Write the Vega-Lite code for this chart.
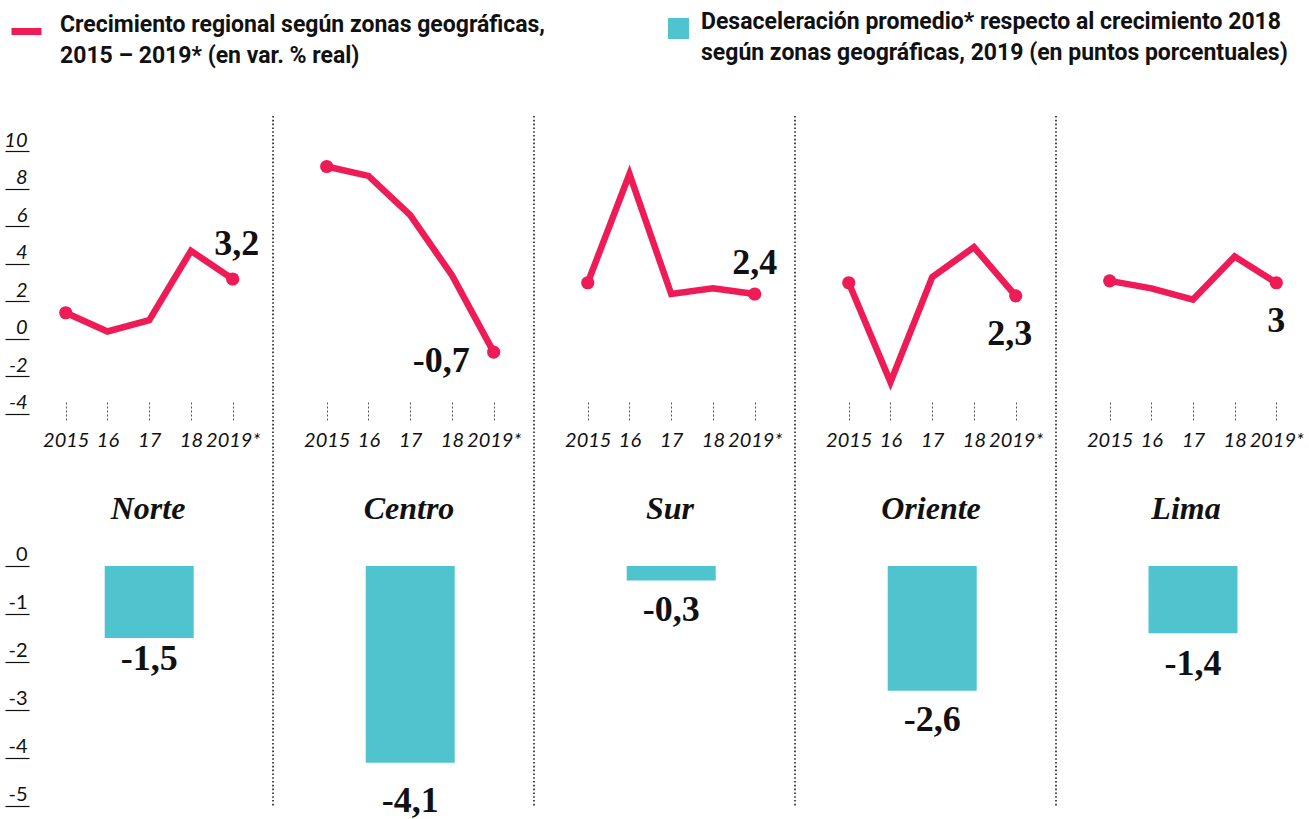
{
  "$schema": "https://vega.github.io/schema/vega-lite/v6.json",
  "background": "white",
  "padding": {"left": 3, "top": 13, "right": 0, "bottom": 0},
  "bounds": "flush",
  "spacing": 0,
  "datasets": {
    "crec": [
      {"zona": "Norte", "anio": 2015, "valor": 1.4},
      {"zona": "Norte", "anio": 2016, "valor": 0.4},
      {"zona": "Norte", "anio": 2017, "valor": 1.0},
      {"zona": "Norte", "anio": 2018, "valor": 4.7},
      {"zona": "Norte", "anio": 2019, "valor": 3.2},
      {"zona": "Centro", "anio": 2015, "valor": 9.2},
      {"zona": "Centro", "anio": 2016, "valor": 8.7},
      {"zona": "Centro", "anio": 2017, "valor": 6.6},
      {"zona": "Centro", "anio": 2018, "valor": 3.4},
      {"zona": "Centro", "anio": 2019, "valor": -0.7},
      {"zona": "Sur", "anio": 2015, "valor": 3.0},
      {"zona": "Sur", "anio": 2016, "valor": 8.8},
      {"zona": "Sur", "anio": 2017, "valor": 2.4},
      {"zona": "Sur", "anio": 2018, "valor": 2.7},
      {"zona": "Sur", "anio": 2019, "valor": 2.4},
      {"zona": "Oriente", "anio": 2015, "valor": 3.0},
      {"zona": "Oriente", "anio": 2016, "valor": -2.3},
      {"zona": "Oriente", "anio": 2017, "valor": 3.3},
      {"zona": "Oriente", "anio": 2018, "valor": 4.9},
      {"zona": "Oriente", "anio": 2019, "valor": 2.3},
      {"zona": "Lima", "anio": 2015, "valor": 3.1},
      {"zona": "Lima", "anio": 2016, "valor": 2.7},
      {"zona": "Lima", "anio": 2017, "valor": 2.1},
      {"zona": "Lima", "anio": 2018, "valor": 4.4},
      {"zona": "Lima", "anio": 2019, "valor": 3.0}
    ],
    "desac": [
      {"zona": "Norte", "valor": -1.5},
      {"zona": "Centro", "valor": -4.1},
      {"zona": "Sur", "valor": -0.3},
      {"zona": "Oriente", "valor": -2.6},
      {"zona": "Lima", "valor": -1.4}
    ]
  },
  "hconcat": [
    {
      "width": 261, "height": 691,
      "resolve": {"scale": {"y": "independent"}, "axis": {"y": "independent"}},
      "layer": [
        {
          "data": {"name": "crec"},
          "transform": [{"filter": "datum.zona == 'Norte'"}],
          "encoding": {
            "x": {"field": "anio", "type": "quantitative", "scale": {"domain": [2013.952, 2019.966], "nice": false, "zero": false},
              "axis": {"values": [2015, 2016, 2017, 2018, 2019], "orient": "bottom", "offset": -405, "domain": false, "grid": false, "tickSize": 20, "tickDash": [2, 2], "tickColor": "#555", "tickWidth": 1, "labelFont": "Lato", "labelFontStyle": "italic", "labelFontSize": 20, "labelColor": "#111", "labelPadding": 8, "labelOverlap": false, "labelFlush": false, "labelExpr": "datum.value == 2015 ? '2015' : datum.value == 2019 ? '2019*' : substring(toString(datum.value), 2)", "title": "Norte", "titleFont": "Liberation Serif", "titleFontStyle": "italic", "titleFontWeight": "bold", "titleFontSize": 32, "titleColor": "#111", "titlePadding": 43}},
            "y": {"field": "valor", "type": "quantitative", "scale": {"domain": [-24.96, 11.893], "nice": false, "zero": false},
              "axis": {"orient": "left", "values": [-4, -2, 0, 2, 4, 6, 8, 10], "offset": -12, "domain": false, "grid": false, "tickSize": 24, "tickColor": "#111", "tickWidth": 1.2, "labelFont": "Lato", "labelFontStyle": "italic", "labelFontSize": 20, "labelAlign": "right", "labelBaseline": "alphabetic", "labelPadding": -22, "labelOffset": -5, "labelColor": "#111", "labelOverlap": false, "labelFlush": false, "title": null}}
          },
          "layer": [
            {"mark": {"type": "line", "strokeWidth": 6.5, "strokeJoin": "miter"},
             "encoding": {"stroke": {"datum": "Crecimiento", "scale": {"range": ["#EE1B56"]},
               "legend": {"orient": "none", "legendX": -9, "legendY": -103, "title": null, "symbolType": "stroke", "symbolSize": 900, "symbolStrokeWidth": 7, "labelExpr": "['Crecimiento regional según zonas geográficas,', '2015 – 2019* (en var. % real)']", "labelFont": "Roboto", "labelFontWeight": "bold", "labelFontSize": 23, "labelColor": "#111", "labelLimit": 1000, "labelBaseline": "alphabetic", "labelOffset": 15, "padding": 0}}}},
            {"transform": [{"filter": "datum.anio == 2015 || datum.anio == 2019"}], "mark": {"type": "circle", "size": 175, "color": "#EE1B56", "opacity": 1}},
            {"transform": [{"filter": "datum.anio == 2019"}], "mark": {"type": "text", "font": "Liberation Serif", "fontWeight": "bold", "fontSize": 36, "color": "#111", "align": "center", "baseline": "alphabetic", "dx": 4, "dy": -24},
             "encoding": {"text": {"field": "valor", "type": "quantitative", "format": ".1~f"}}}
          ]
        },
        {
          "data": {"name": "desac"},
          "transform": [{"filter": "datum.zona == 'Norte'"}],
          "encoding": {
            "x": {"datum": 2017, "type": "quantitative", "scale": {"domain": [2013.952, 2019.966], "nice": false, "zero": false},
              "axis": {"values": [2015, 2016, 2017, 2018, 2019], "orient": "bottom", "offset": -405, "domain": false, "grid": false, "tickSize": 20, "tickDash": [2, 2], "tickColor": "#555", "tickWidth": 1, "labelFont": "Lato", "labelFontStyle": "italic", "labelFontSize": 20, "labelColor": "#111", "labelPadding": 8, "labelOverlap": false, "labelFlush": false, "labelExpr": "datum.value == 2015 ? '2015' : datum.value == 2019 ? '2019*' : substring(toString(datum.value), 2)", "title": "Norte", "titleFont": "Liberation Serif", "titleFontStyle": "italic", "titleFontWeight": "bold", "titleFontSize": 32, "titleColor": "#111", "titlePadding": 43}},
            "y": {"field": "valor", "type": "quantitative", "scale": {"domain": [-5.021, 9.375], "nice": false, "zero": false},
              "axis": {"orient": "left", "values": [0, -1, -2, -3, -4, -5], "offset": -12, "domain": false, "grid": false, "tickSize": 24, "tickColor": "#111", "tickWidth": 1.2, "labelFont": "Lato", "labelFontSize": 20, "labelAlign": "right", "labelBaseline": "alphabetic", "labelPadding": -22, "labelOffset": -5, "labelColor": "#111", "labelOverlap": false, "labelFlush": false, "title": null}}
          },
          "layer": [
            {"mark": {"type": "bar", "width": 89},
             "encoding": {"y2": {"datum": 0}, "fill": {"datum": "Desaceleración", "scale": {"range": ["#4FC4CE"]},
               "legend": {"orient": "none", "legendX": 650, "legendY": -99, "title": null, "symbolType": "square", "symbolSize": 441, "symbolStrokeWidth": 0, "labelExpr": "['Desaceleración promedio* respecto al crecimiento 2018', 'según zonas geográficas, 2019 (en puntos porcentuales)']", "labelFont": "Roboto", "labelFontWeight": "bold", "labelFontSize": 23, "labelColor": "#111", "labelLimit": 1000, "labelBaseline": "alphabetic", "labelOffset": 11, "padding": 0}}}},
            {"mark": {"type": "text", "font": "Liberation Serif", "fontWeight": "bold", "fontSize": 36, "color": "#111", "align": "center", "baseline": "alphabetic", "dy": 32},
             "encoding": {"text": {"field": "valor", "type": "quantitative", "format": ".1f"}}}
          ]
        },
        {
          "data": {"name": "desac"},
          "transform": [{"filter": "datum.zona == 'Norte'"}],
          "mark": {"type": "rule", "stroke": "#222", "strokeWidth": 1.6, "strokeDash": [1.6, 2.2]},
          "encoding": {"x": {"datum": 2019.966, "type": "quantitative", "scale": {"domain": [2013.952, 2019.966], "nice": false, "zero": false},
              "axis": {"values": [2015, 2016, 2017, 2018, 2019], "orient": "bottom", "offset": -405, "domain": false, "grid": false, "tickSize": 20, "tickDash": [2, 2], "tickColor": "#555", "tickWidth": 1, "labelFont": "Lato", "labelFontStyle": "italic", "labelFontSize": 20, "labelColor": "#111", "labelPadding": 8, "labelOverlap": false, "labelFlush": false, "labelExpr": "datum.value == 2015 ? '2015' : datum.value == 2019 ? '2019*' : substring(toString(datum.value), 2)", "title": "Norte", "titleFont": "Liberation Serif", "titleFontStyle": "italic", "titleFontWeight": "bold", "titleFontSize": 32, "titleColor": "#111", "titlePadding": 43}}}
        }
      ]
    },
    {
      "width": 261, "height": 691,
      "resolve": {"scale": {"y": "independent"}, "axis": {"y": "independent"}},
      "layer": [
        {
          "data": {"name": "crec"},
          "transform": [{"filter": "datum.zona == 'Centro'"}],
          "encoding": {
            "x": {"field": "anio", "type": "quantitative", "scale": {"domain": [2013.952, 2019.966], "nice": false, "zero": false},
              "axis": {"values": [2015, 2016, 2017, 2018, 2019], "orient": "bottom", "offset": -405, "domain": false, "grid": false, "tickSize": 20, "tickDash": [2, 2], "tickColor": "#555", "tickWidth": 1, "labelFont": "Lato", "labelFontStyle": "italic", "labelFontSize": 20, "labelColor": "#111", "labelPadding": 8, "labelOverlap": false, "labelFlush": false, "labelExpr": "datum.value == 2015 ? '2015' : datum.value == 2019 ? '2019*' : substring(toString(datum.value), 2)", "title": "Centro", "titleFont": "Liberation Serif", "titleFontStyle": "italic", "titleFontWeight": "bold", "titleFontSize": 32, "titleColor": "#111", "titlePadding": 43}},
            "y": {"field": "valor", "type": "quantitative", "scale": {"domain": [-24.96, 11.893], "nice": false, "zero": false}, "axis": null}
          },
          "layer": [
            {"mark": {"type": "line", "strokeWidth": 6.5, "strokeJoin": "miter"},
             "encoding": {"stroke": {"datum": "Crecimiento", "scale": {"range": ["#EE1B56"]}, "legend": null}}},
            {"transform": [{"filter": "datum.anio == 2015 || datum.anio == 2019"}], "mark": {"type": "circle", "size": 175, "color": "#EE1B56", "opacity": 1}},
            {"transform": [{"filter": "datum.anio == 2019"}], "mark": {"type": "text", "font": "Liberation Serif", "fontWeight": "bold", "fontSize": 36, "color": "#111", "align": "right", "baseline": "alphabetic", "dx": -24, "dy": 20},
             "encoding": {"text": {"field": "valor", "type": "quantitative", "format": ".1~f"}}}
          ]
        },
        {
          "data": {"name": "desac"},
          "transform": [{"filter": "datum.zona == 'Centro'"}],
          "encoding": {
            "x": {"datum": 2017, "type": "quantitative", "scale": {"domain": [2013.952, 2019.966], "nice": false, "zero": false},
              "axis": {"values": [2015, 2016, 2017, 2018, 2019], "orient": "bottom", "offset": -405, "domain": false, "grid": false, "tickSize": 20, "tickDash": [2, 2], "tickColor": "#555", "tickWidth": 1, "labelFont": "Lato", "labelFontStyle": "italic", "labelFontSize": 20, "labelColor": "#111", "labelPadding": 8, "labelOverlap": false, "labelFlush": false, "labelExpr": "datum.value == 2015 ? '2015' : datum.value == 2019 ? '2019*' : substring(toString(datum.value), 2)", "title": "Centro", "titleFont": "Liberation Serif", "titleFontStyle": "italic", "titleFontWeight": "bold", "titleFontSize": 32, "titleColor": "#111", "titlePadding": 43}},
            "y": {"field": "valor", "type": "quantitative", "scale": {"domain": [-5.021, 9.375], "nice": false, "zero": false}, "axis": null}
          },
          "layer": [
            {"mark": {"type": "bar", "width": 89},
             "encoding": {"y2": {"datum": 0}, "fill": {"datum": "Desaceleración", "scale": {"range": ["#4FC4CE"]}, "legend": null}}},
            {"mark": {"type": "text", "font": "Liberation Serif", "fontWeight": "bold", "fontSize": 36, "color": "#111", "align": "center", "baseline": "alphabetic", "dy": 49},
             "encoding": {"text": {"field": "valor", "type": "quantitative", "format": ".1f"}}}
          ]
        },
        {
          "data": {"name": "desac"},
          "transform": [{"filter": "datum.zona == 'Centro'"}],
          "mark": {"type": "rule", "stroke": "#222", "strokeWidth": 1.6, "strokeDash": [1.6, 2.2]},
          "encoding": {"x": {"datum": 2019.966, "type": "quantitative", "scale": {"domain": [2013.952, 2019.966], "nice": false, "zero": false},
              "axis": {"values": [2015, 2016, 2017, 2018, 2019], "orient": "bottom", "offset": -405, "domain": false, "grid": false, "tickSize": 20, "tickDash": [2, 2], "tickColor": "#555", "tickWidth": 1, "labelFont": "Lato", "labelFontStyle": "italic", "labelFontSize": 20, "labelColor": "#111", "labelPadding": 8, "labelOverlap": false, "labelFlush": false, "labelExpr": "datum.value == 2015 ? '2015' : datum.value == 2019 ? '2019*' : substring(toString(datum.value), 2)", "title": "Centro", "titleFont": "Liberation Serif", "titleFontStyle": "italic", "titleFontWeight": "bold", "titleFontSize": 32, "titleColor": "#111", "titlePadding": 43}}}
        }
      ]
    },
    {
      "width": 261, "height": 691,
      "resolve": {"scale": {"y": "independent"}, "axis": {"y": "independent"}},
      "layer": [
        {
          "data": {"name": "crec"},
          "transform": [{"filter": "datum.zona == 'Sur'"}],
          "encoding": {
            "x": {"field": "anio", "type": "quantitative", "scale": {"domain": [2013.952, 2019.966], "nice": false, "zero": false},
              "axis": {"values": [2015, 2016, 2017, 2018, 2019], "orient": "bottom", "offset": -405, "domain": false, "grid": false, "tickSize": 20, "tickDash": [2, 2], "tickColor": "#555", "tickWidth": 1, "labelFont": "Lato", "labelFontStyle": "italic", "labelFontSize": 20, "labelColor": "#111", "labelPadding": 8, "labelOverlap": false, "labelFlush": false, "labelExpr": "datum.value == 2015 ? '2015' : datum.value == 2019 ? '2019*' : substring(toString(datum.value), 2)", "title": "Sur", "titleFont": "Liberation Serif", "titleFontStyle": "italic", "titleFontWeight": "bold", "titleFontSize": 32, "titleColor": "#111", "titlePadding": 43}},
            "y": {"field": "valor", "type": "quantitative", "scale": {"domain": [-24.96, 11.893], "nice": false, "zero": false}, "axis": null}
          },
          "layer": [
            {"mark": {"type": "line", "strokeWidth": 6.5, "strokeJoin": "miter"},
             "encoding": {"stroke": {"datum": "Crecimiento", "scale": {"range": ["#EE1B56"]}, "legend": null}}},
            {"transform": [{"filter": "datum.anio == 2015 || datum.anio == 2019"}], "mark": {"type": "circle", "size": 175, "color": "#EE1B56", "opacity": 1}},
            {"transform": [{"filter": "datum.anio == 2019"}], "mark": {"type": "text", "font": "Liberation Serif", "fontWeight": "bold", "fontSize": 36, "color": "#111", "align": "center", "baseline": "alphabetic", "dx": 0, "dy": -20},
             "encoding": {"text": {"field": "valor", "type": "quantitative", "format": ".1~f"}}}
          ]
        },
        {
          "data": {"name": "desac"},
          "transform": [{"filter": "datum.zona == 'Sur'"}],
          "encoding": {
            "x": {"datum": 2017, "type": "quantitative", "scale": {"domain": [2013.952, 2019.966], "nice": false, "zero": false},
              "axis": {"values": [2015, 2016, 2017, 2018, 2019], "orient": "bottom", "offset": -405, "domain": false, "grid": false, "tickSize": 20, "tickDash": [2, 2], "tickColor": "#555", "tickWidth": 1, "labelFont": "Lato", "labelFontStyle": "italic", "labelFontSize": 20, "labelColor": "#111", "labelPadding": 8, "labelOverlap": false, "labelFlush": false, "labelExpr": "datum.value == 2015 ? '2015' : datum.value == 2019 ? '2019*' : substring(toString(datum.value), 2)", "title": "Sur", "titleFont": "Liberation Serif", "titleFontStyle": "italic", "titleFontWeight": "bold", "titleFontSize": 32, "titleColor": "#111", "titlePadding": 43}},
            "y": {"field": "valor", "type": "quantitative", "scale": {"domain": [-5.021, 9.375], "nice": false, "zero": false}, "axis": null}
          },
          "layer": [
            {"mark": {"type": "bar", "width": 89},
             "encoding": {"y2": {"datum": 0}, "fill": {"datum": "Desaceleración", "scale": {"range": ["#4FC4CE"]}, "legend": null}}},
            {"mark": {"type": "text", "font": "Liberation Serif", "fontWeight": "bold", "fontSize": 36, "color": "#111", "align": "center", "baseline": "alphabetic", "dy": 41},
             "encoding": {"text": {"field": "valor", "type": "quantitative", "format": ".1f"}}}
          ]
        },
        {
          "data": {"name": "desac"},
          "transform": [{"filter": "datum.zona == 'Sur'"}],
          "mark": {"type": "rule", "stroke": "#222", "strokeWidth": 1.6, "strokeDash": [1.6, 2.2]},
          "encoding": {"x": {"datum": 2019.966, "type": "quantitative", "scale": {"domain": [2013.952, 2019.966], "nice": false, "zero": false},
              "axis": {"values": [2015, 2016, 2017, 2018, 2019], "orient": "bottom", "offset": -405, "domain": false, "grid": false, "tickSize": 20, "tickDash": [2, 2], "tickColor": "#555", "tickWidth": 1, "labelFont": "Lato", "labelFontStyle": "italic", "labelFontSize": 20, "labelColor": "#111", "labelPadding": 8, "labelOverlap": false, "labelFlush": false, "labelExpr": "datum.value == 2015 ? '2015' : datum.value == 2019 ? '2019*' : substring(toString(datum.value), 2)", "title": "Sur", "titleFont": "Liberation Serif", "titleFontStyle": "italic", "titleFontWeight": "bold", "titleFontSize": 32, "titleColor": "#111", "titlePadding": 43}}}
        }
      ]
    },
    {
      "width": 261, "height": 691,
      "resolve": {"scale": {"y": "independent"}, "axis": {"y": "independent"}},
      "layer": [
        {
          "data": {"name": "crec"},
          "transform": [{"filter": "datum.zona == 'Oriente'"}],
          "encoding": {
            "x": {"field": "anio", "type": "quantitative", "scale": {"domain": [2013.952, 2019.966], "nice": false, "zero": false},
              "axis": {"values": [2015, 2016, 2017, 2018, 2019], "orient": "bottom", "offset": -405, "domain": false, "grid": false, "tickSize": 20, "tickDash": [2, 2], "tickColor": "#555", "tickWidth": 1, "labelFont": "Lato", "labelFontStyle": "italic", "labelFontSize": 20, "labelColor": "#111", "labelPadding": 8, "labelOverlap": false, "labelFlush": false, "labelExpr": "datum.value == 2015 ? '2015' : datum.value == 2019 ? '2019*' : substring(toString(datum.value), 2)", "title": "Oriente", "titleFont": "Liberation Serif", "titleFontStyle": "italic", "titleFontWeight": "bold", "titleFontSize": 32, "titleColor": "#111", "titlePadding": 43}},
            "y": {"field": "valor", "type": "quantitative", "scale": {"domain": [-24.96, 11.893], "nice": false, "zero": false}, "axis": null}
          },
          "layer": [
            {"mark": {"type": "line", "strokeWidth": 6.5, "strokeJoin": "miter"},
             "encoding": {"stroke": {"datum": "Crecimiento", "scale": {"range": ["#EE1B56"]}, "legend": null}}},
            {"transform": [{"filter": "datum.anio == 2015 || datum.anio == 2019"}], "mark": {"type": "circle", "size": 175, "color": "#EE1B56", "opacity": 1}},
            {"transform": [{"filter": "datum.anio == 2019"}], "mark": {"type": "text", "font": "Liberation Serif", "fontWeight": "bold", "fontSize": 36, "color": "#111", "align": "center", "baseline": "alphabetic", "dx": -6, "dy": 49},
             "encoding": {"text": {"field": "valor", "type": "quantitative", "format": ".1~f"}}}
          ]
        },
        {
          "data": {"name": "desac"},
          "transform": [{"filter": "datum.zona == 'Oriente'"}],
          "encoding": {
            "x": {"datum": 2017, "type": "quantitative", "scale": {"domain": [2013.952, 2019.966], "nice": false, "zero": false},
              "axis": {"values": [2015, 2016, 2017, 2018, 2019], "orient": "bottom", "offset": -405, "domain": false, "grid": false, "tickSize": 20, "tickDash": [2, 2], "tickColor": "#555", "tickWidth": 1, "labelFont": "Lato", "labelFontStyle": "italic", "labelFontSize": 20, "labelColor": "#111", "labelPadding": 8, "labelOverlap": false, "labelFlush": false, "labelExpr": "datum.value == 2015 ? '2015' : datum.value == 2019 ? '2019*' : substring(toString(datum.value), 2)", "title": "Oriente", "titleFont": "Liberation Serif", "titleFontStyle": "italic", "titleFontWeight": "bold", "titleFontSize": 32, "titleColor": "#111", "titlePadding": 43}},
            "y": {"field": "valor", "type": "quantitative", "scale": {"domain": [-5.021, 9.375], "nice": false, "zero": false}, "axis": null}
          },
          "layer": [
            {"mark": {"type": "bar", "width": 89},
             "encoding": {"y2": {"datum": 0}, "fill": {"datum": "Desaceleración", "scale": {"range": ["#4FC4CE"]}, "legend": null}}},
            {"mark": {"type": "text", "font": "Liberation Serif", "fontWeight": "bold", "fontSize": 36, "color": "#111", "align": "center", "baseline": "alphabetic", "dy": 40},
             "encoding": {"text": {"field": "valor", "type": "quantitative", "format": ".1f"}}}
          ]
        },
        {
          "data": {"name": "desac"},
          "transform": [{"filter": "datum.zona == 'Oriente'"}],
          "mark": {"type": "rule", "stroke": "#222", "strokeWidth": 1.6, "strokeDash": [1.6, 2.2]},
          "encoding": {"x": {"datum": 2019.966, "type": "quantitative", "scale": {"domain": [2013.952, 2019.966], "nice": false, "zero": false},
              "axis": {"values": [2015, 2016, 2017, 2018, 2019], "orient": "bottom", "offset": -405, "domain": false, "grid": false, "tickSize": 20, "tickDash": [2, 2], "tickColor": "#555", "tickWidth": 1, "labelFont": "Lato", "labelFontStyle": "italic", "labelFontSize": 20, "labelColor": "#111", "labelPadding": 8, "labelOverlap": false, "labelFlush": false, "labelExpr": "datum.value == 2015 ? '2015' : datum.value == 2019 ? '2019*' : substring(toString(datum.value), 2)", "title": "Oriente", "titleFont": "Liberation Serif", "titleFontStyle": "italic", "titleFontWeight": "bold", "titleFontSize": 32, "titleColor": "#111", "titlePadding": 43}}}
        }
      ]
    },
    {
      "width": 249, "height": 691,
      "resolve": {"scale": {"y": "independent"}, "axis": {"y": "independent"}},
      "layer": [
        {
          "data": {"name": "crec"},
          "transform": [{"filter": "datum.zona == 'Lima'"}],
          "encoding": {
            "x": {"field": "anio", "type": "quantitative", "scale": {"domain": [2013.952, 2019.689], "nice": false, "zero": false},
              "axis": {"values": [2015, 2016, 2017, 2018, 2019], "orient": "bottom", "offset": -405, "domain": false, "grid": false, "tickSize": 20, "tickDash": [2, 2], "tickColor": "#555", "tickWidth": 1, "labelFont": "Lato", "labelFontStyle": "italic", "labelFontSize": 20, "labelColor": "#111", "labelPadding": 8, "labelOverlap": false, "labelFlush": false, "labelExpr": "datum.value == 2015 ? '2015' : datum.value == 2019 ? '2019*' : substring(toString(datum.value), 2)", "title": "Lima", "titleFont": "Liberation Serif", "titleFontStyle": "italic", "titleFontWeight": "bold", "titleFontSize": 32, "titleColor": "#111", "titlePadding": 43}},
            "y": {"field": "valor", "type": "quantitative", "scale": {"domain": [-24.96, 11.893], "nice": false, "zero": false}, "axis": null}
          },
          "layer": [
            {"mark": {"type": "line", "strokeWidth": 6.5, "strokeJoin": "miter"},
             "encoding": {"stroke": {"datum": "Crecimiento", "scale": {"range": ["#EE1B56"]}, "legend": null}}},
            {"transform": [{"filter": "datum.anio == 2015 || datum.anio == 2019"}], "mark": {"type": "circle", "size": 175, "color": "#EE1B56", "opacity": 1}},
            {"transform": [{"filter": "datum.anio == 2019"}], "mark": {"type": "text", "font": "Liberation Serif", "fontWeight": "bold", "fontSize": 36, "color": "#111", "align": "center", "baseline": "alphabetic", "dx": 0, "dy": 49},
             "encoding": {"text": {"field": "valor", "type": "quantitative", "format": ".1~f"}}}
          ]
        },
        {
          "data": {"name": "desac"},
          "transform": [{"filter": "datum.zona == 'Lima'"}],
          "encoding": {
            "x": {"datum": 2017, "type": "quantitative", "scale": {"domain": [2013.952, 2019.689], "nice": false, "zero": false},
              "axis": {"values": [2015, 2016, 2017, 2018, 2019], "orient": "bottom", "offset": -405, "domain": false, "grid": false, "tickSize": 20, "tickDash": [2, 2], "tickColor": "#555", "tickWidth": 1, "labelFont": "Lato", "labelFontStyle": "italic", "labelFontSize": 20, "labelColor": "#111", "labelPadding": 8, "labelOverlap": false, "labelFlush": false, "labelExpr": "datum.value == 2015 ? '2015' : datum.value == 2019 ? '2019*' : substring(toString(datum.value), 2)", "title": "Lima", "titleFont": "Liberation Serif", "titleFontStyle": "italic", "titleFontWeight": "bold", "titleFontSize": 32, "titleColor": "#111", "titlePadding": 43}},
            "y": {"field": "valor", "type": "quantitative", "scale": {"domain": [-5.021, 9.375], "nice": false, "zero": false}, "axis": null}
          },
          "layer": [
            {"mark": {"type": "bar", "width": 89},
             "encoding": {"y2": {"datum": 0}, "fill": {"datum": "Desaceleración", "scale": {"range": ["#4FC4CE"]}, "legend": null}}},
            {"mark": {"type": "text", "font": "Liberation Serif", "fontWeight": "bold", "fontSize": 36, "color": "#111", "align": "center", "baseline": "alphabetic", "dy": 42},
             "encoding": {"text": {"field": "valor", "type": "quantitative", "format": ".1f"}}}
          ]
        }
      ]
    }
  ],
  "resolve": {"scale": {"stroke": "shared", "fill": "shared"}, "legend": {"stroke": "shared", "fill": "shared"}},
  "config": {
    "view": {"stroke": null},
    "axis": {"grid": false},
    "font": "Roboto",
    "style": {"guide-label": {"lineHeight": 31}},
    "locale": {"number": {"decimal": ",", "thousands": ".", "grouping": [3], "currency": ["", ""], "minus": "-"}}
  }
}
